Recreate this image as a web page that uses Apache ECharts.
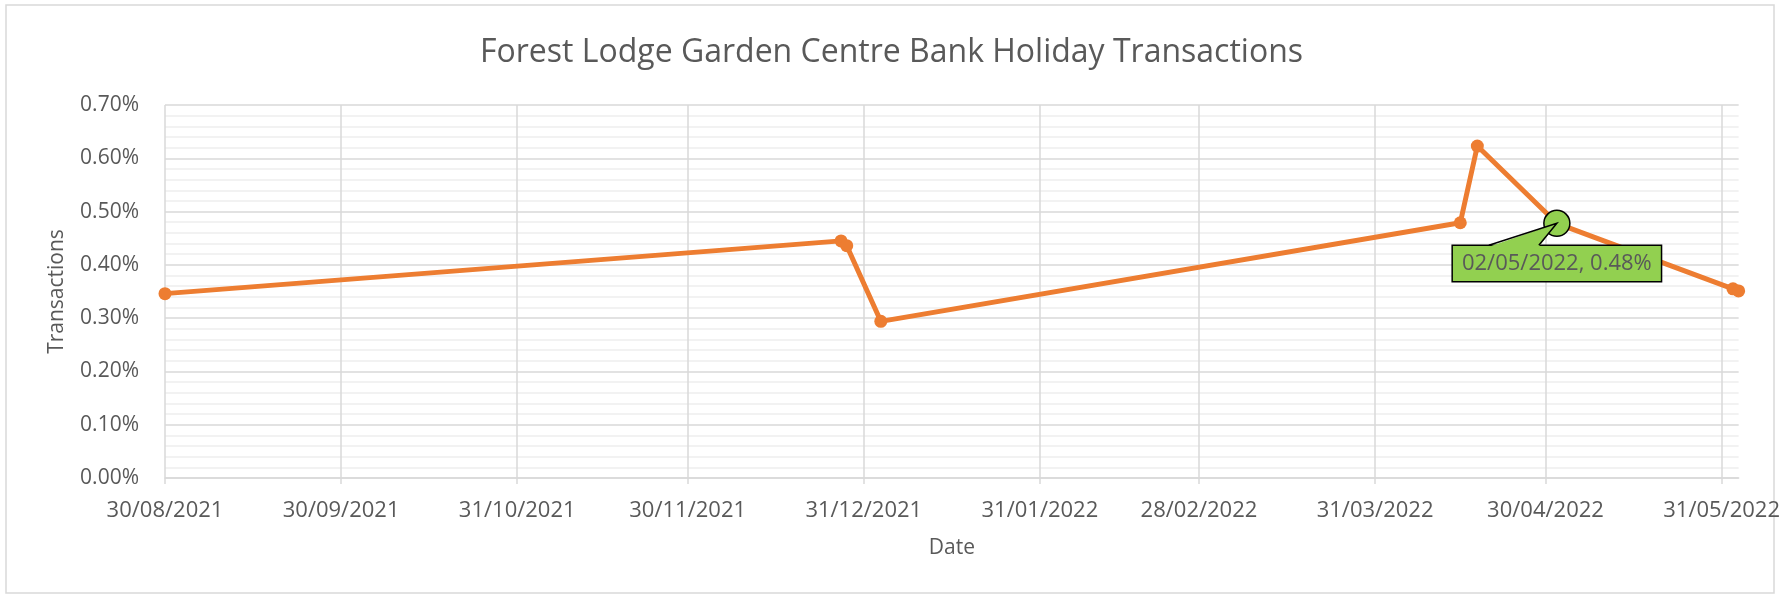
<!DOCTYPE html>
<html>
<head>
<meta charset="utf-8">
<script src="https://cdn.jsdelivr.net/npm/echarts@6/dist/echarts.min.js"></script>
<style>
  html, body { margin: 0; padding: 0; background: #fff; }
  #chart { width: 1783px; height: 595px; }
</style>
</head>
<body>
<div id="chart"></div>
<script>
// bank holiday dates and their share of transactions (in %)
const dates = ['2021-08-30', '2021-12-27', '2021-12-28', '2022-01-03', '2022-04-15', '2022-04-18', '2022-05-02', '2022-06-02', '2022-06-03'];
const shares = [0.346, 0.445, 0.436, 0.294, 0.479, 0.623, 0.478, 0.355, 0.351];
// date axis labels (one per month, as in the workbook)
const tickDates = ['2021-08-30', '2021-09-30', '2021-10-31', '2021-11-30', '2021-12-31', '2022-01-31', '2022-02-28', '2022-03-31', '2022-04-30', '2022-05-31'];
const calloutDate = '2022-05-02';

const FONT = '"Open Sans", sans-serif';
const GREY = '#595959';

const toTime = s => {
  const [y, m, d] = s.split('-').map(Number);
  return Date.UTC(y, m - 1, d);
};
const pad = n => (n < 10 ? '0' : '') + n;
const fmtDate = t => {
  const d = new Date(t);
  return pad(d.getUTCDate()) + '/' + pad(d.getUTCMonth() + 1) + '/' + d.getUTCFullYear();
};

const seriesData = dates.map((d, i) => {
  const item = { value: [toTime(d), shares[i]] };
  if (d === calloutDate) {
    item.symbolSize = 26;
    item.itemStyle = { color: '#92D050', borderColor: '#000', borderWidth: 1.5 };
    item.label = {
      show: true,
      position: 'bottom',
      distance: 9,
      formatter: p => fmtDate(p.value[0]) + ', ' + p.value[1].toFixed(2) + '%',
      color: GREY,
      fontFamily: FONT,
      fontSize: 22,
      backgroundColor: '#92D050',
      borderColor: '#000',
      borderWidth: 1.5,
      padding: [7, 9, 6, 9]
    };
  }
  return item;
});

const chart = echarts.init(document.getElementById('chart'));
chart.setOption({
  animation: false,
  title: {
    text: 'Forest Lodge Garden Centre Bank Holiday Transactions',
    left: 'center',
    top: 32,
    textStyle: { color: GREY, fontFamily: FONT, fontSize: 32, fontWeight: 'normal' }
  },
  graphic: [{
    id: 'frame',
    type: 'rect',
    shape: { x: 6, y: 5, width: 1768, height: 588 },
    style: { fill: 'none', stroke: '#d9d9d9', lineWidth: 1.5 },
    z: -1
  }],
  grid: { left: 165, right: 36, top: 105, bottom: 117 },
  xAxis: {
    type: 'value',
    min: toTime(dates[0]),
    max: toTime(dates[dates.length - 1]),
    name: 'Date',
    nameLocation: 'middle',
    nameGap: 60,
    nameTextStyle: { color: GREY, fontFamily: FONT, fontSize: 21 },
    axisLine: { show: true, lineStyle: { color: '#d9d9d9', width: 1.5 } },
    axisTick: { show: true, length: 6, lineStyle: { color: '#d9d9d9', width: 1.5 }, customValues: tickDates.map(toTime) },
    axisLabel: {
      customValues: tickDates.map(toTime),
      formatter: v => fmtDate(v),
      color: GREY, fontFamily: FONT, fontSize: 22, margin: 22,
      hideOverlap: false
    },
    splitLine: { show: true, lineStyle: { color: '#d9d9d9', width: 1.5 } }
  },
  yAxis: {
    type: 'value',
    min: 0,
    max: 0.7,
    interval: 0.1,
    name: 'Transactions',
    nameLocation: 'middle',
    nameGap: 97,
    nameTextStyle: { color: GREY, fontFamily: FONT, fontSize: 21 },
    axisLine: { show: false },
    axisTick: { show: false },
    axisLabel: { formatter: v => v.toFixed(2) + '%', color: GREY, fontFamily: FONT, fontSize: 21, margin: 26 },
    splitLine: { lineStyle: { color: '#d9d9d9', width: 1.5 } },
    minorTick: { show: false, splitNumber: 5 },
    minorSplitLine: { show: true, lineStyle: { color: '#eeeeee', width: 1.5 } }
  },
  series: [{
    type: 'line',
    data: seriesData,
    symbol: 'circle',
    symbolSize: 13,
    lineStyle: { color: '#ED7D31', width: 5 },
    itemStyle: { color: '#ED7D31' }
  }]
});

// callout pointer from the label box to the highlighted point
const ci = dates.indexOf(calloutDate);
const p = chart.convertToPixel({ seriesIndex: 0 }, [toTime(calloutDate), shares[ci]]);
const boxTop = p[1] + 13 + 9;
chart.setOption({
  graphic: [{
    id: 'pointerFill',
    type: 'polygon',
    shape: { points: [[p[0], p[1]], [p[0] - 68, boxTop + 1.5], [p[0] - 18, boxTop + 1.5]] },
    style: { fill: '#92D050' },
    z: 100
  }, {
    id: 'pointerEdge',
    type: 'polyline',
    shape: { points: [[p[0] - 68, boxTop], [p[0], p[1]], [p[0] - 18, boxTop]] },
    style: { fill: 'none', stroke: '#000', lineWidth: 1.5 },
    z: 101
  }]
});
</script>
</body>
</html>
